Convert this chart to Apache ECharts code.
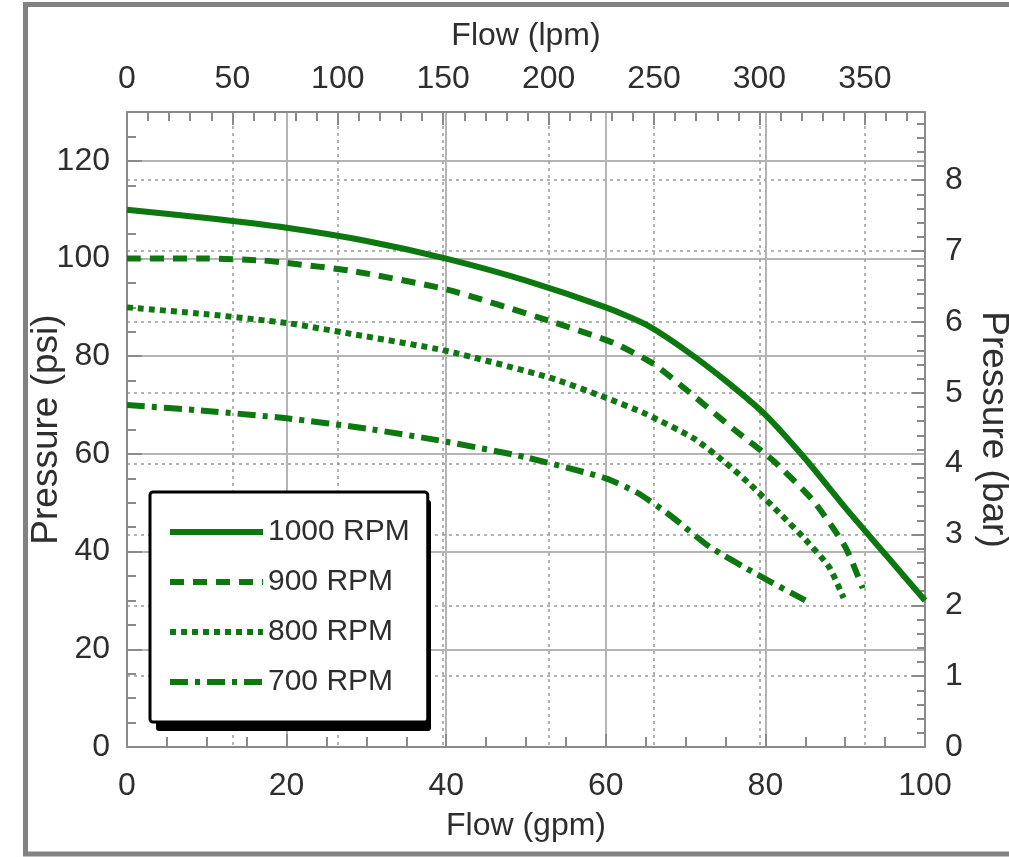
<!DOCTYPE html>
<html>
<head>
<meta charset="utf-8">
<title>Pump curves</title>
<script src="https://cdn.jsdelivr.net/npm/echarts@6/dist/echarts.min.js"></script>
<style>
  html, body { margin: 0; padding: 0; background: #fff; }
  #chart { width: 1009px; height: 857px; }
</style>
</head>
<body>
<div id="chart"></div>
<script>
// values
const seriesNames = ['1000 RPM', '900 RPM', '800 RPM', '700 RPM'];

const gpm1000 = [0, 10, 20, 30, 40, 50, 60, 65, 70, 75, 80, 85, 90, 95, 100];
const psi1000 = [110, 108.3, 106.3, 103.6, 100, 95.5, 90, 86.5, 81.2, 75, 68, 59, 49, 39.5, 30];

const gpm900 = [0, 10, 17, 20, 28, 40, 53, 61, 66, 71, 76, 81, 86, 90, 92.2];
const psi900 = [100, 100, 99.6, 99.1, 97.5, 93.7, 87.2, 82.7, 78.4, 71.9, 65.1, 58.6, 50.4, 41, 32.5];

const gpm800 = [0, 10, 20, 28, 40, 53, 60, 65, 71, 75, 78, 82, 85, 88, 89.8];
const psi800 = [90, 88.6, 86.8, 84.6, 81.1, 75.6, 71.5, 68.2, 63.2, 58.2, 53.9, 47.5, 42.5, 36.8, 30.5];

const gpm700 = [0, 10, 20, 30, 40, 50, 60, 64, 68, 73, 79, 85];
const psi700 = [70, 68.8, 67.3, 65.2, 62.5, 59.3, 55, 52, 47.5, 41, 35.3, 30];

const GPM_MAX = 100;
const PSI_MAX = 130;
const LPM_PER_GPM = 3.78541;
const PSI_PER_BAR = 14.5038;

const lineColor = '#0c780f';
const dashes = ['solid', [14, 9], [6, 5], [18, 7, 5, 7]];
const textColor = '#2e2e2e';
const font = "'Liberation Sans', Arial, sans-serif";

// legend box as measured on the reference
const LEGEND_BOX = { x: 150, y: 492, w: 275, h: 231 };

const chart = echarts.init(document.getElementById('chart'));

function zip(xs, ys) {
  return xs.map((x, i) => [x, ys[i]]);
}

function isMultiple(v, step) {
  const q = v / step;
  return Math.abs(q - Math.round(q)) < 1e-6;
}

const curves = [
  zip(gpm1000, psi1000),
  zip(gpm900, psi900),
  zip(gpm800, psi800),
  zip(gpm700, psi700),
];

const tickLabel = { color: textColor, fontFamily: font, fontSize: 32 };
const axisName = { color: textColor, fontFamily: font, fontSize: 32 };
const sideName = { color: textColor, fontFamily: font, fontSize: 37 };
const frameLine = { show: true, onZero: false, lineStyle: { color: '#8a8a8a', width: 2 } };
const tickLine = { color: '#8a8a8a', width: 2 };
const solidGrid = { show: true, lineStyle: { color: '#b4b4b4', width: 2 } };
const dottedGrid = { show: true, lineStyle: { color: '#9a9a9a', width: 1.5, type: [3, 4] } };

chart.setOption({
  backgroundColor: '#fff',
  animation: false,
  graphic: [
    {
      type: 'rect',
      silent: true,
      z: 0,
      shape: { x: 25.5, y: 4.5, width: 1100, height: 849.5 },
      style: { fill: 'none', stroke: '#828282', lineWidth: 5 },
    },
    {
      // hard drop shadow behind the legend
      type: 'rect',
      silent: true,
      z: 8,
      shape: { x: LEGEND_BOX.x + 6, y: LEGEND_BOX.y + 8, width: LEGEND_BOX.w, height: LEGEND_BOX.h, r: 3 },
      style: { fill: '#000' },
    },
  ],
  grid: { left: 127, right: 84, top: 112, bottom: 110, outerBoundsMode: 'none', containLabel: false },
  legend: {
    orient: 'vertical',
    left: LEGEND_BOX.x,
    top: LEGEND_BOX.y,
    z: 10,
    padding: [20, 18, 20, 17],
    itemGap: 10,
    itemWidth: 93,
    itemHeight: 14,
    data: seriesNames,
    backgroundColor: '#fff',
    borderColor: '#000',
    borderWidth: 3,
    borderRadius: 3,
    itemStyle: { opacity: 0 },
    lineStyle: { width: 6 },
    textStyle: { color: textColor, fontFamily: font, fontSize: 30, lineHeight: 40 },
  },
  xAxis: [
    {
      type: 'value',
      position: 'bottom',
      min: 0,
      max: GPM_MAX,
      interval: 20,
      name: 'Flow (gpm)',
      nameLocation: 'middle',
      nameMoveOverlap: false,
      nameGap: 63,
      nameTextStyle: axisName,
      axisLine: frameLine,
      axisTick: { show: true, inside: true, length: 13, lineStyle: tickLine },
      minorTick: { show: true, splitNumber: 4, length: 10, lineStyle: tickLine },
      axisLabel: { ...tickLabel, margin: 23 },
      splitLine: solidGrid,
    },
    {
      type: 'value',
      position: 'top',
      min: 0,
      max: GPM_MAX * LPM_PER_GPM,
      interval: 10,
      name: 'Flow (lpm)',
      nameLocation: 'middle',
      nameMoveOverlap: false,
      nameGap: 60,
      nameTextStyle: axisName,
      axisLine: frameLine,
      axisTick: { show: true, inside: true, length: 9, lineStyle: tickLine },
      axisLabel: { ...tickLabel, margin: 17, formatter: (v) => (isMultiple(v, 50) ? String(Math.round(v)) : '') },
      splitLine: { show: false },
    },
    {
      type: 'value',
      position: 'top',
      min: 0,
      max: GPM_MAX * LPM_PER_GPM,
      interval: 50,
      axisLine: { show: false, onZero: false },
      axisTick: { show: true, inside: true, length: 13, lineStyle: tickLine },
      axisLabel: { show: false },
      splitLine: dottedGrid,
    },
  ],
  yAxis: [
    {
      type: 'value',
      position: 'left',
      min: 0,
      max: PSI_MAX,
      interval: 5,
      name: 'Pressure (psi)',
      nameLocation: 'middle',
      nameMoveOverlap: false,
      nameGap: 62,
      nameRotate: 90,
      nameTextStyle: sideName,
      axisLine: frameLine,
      axisTick: { show: true, inside: true, length: 9, lineStyle: tickLine },
      axisLabel: { ...tickLabel, margin: 17, formatter: (v) => (isMultiple(v, 20) ? String(Math.round(v)) : '') },
      splitLine: { show: false },
    },
    {
      type: 'value',
      position: 'left',
      min: 0,
      max: PSI_MAX,
      interval: 20,
      axisLine: { show: false, onZero: false },
      axisTick: { show: true, inside: true, length: 15, lineStyle: tickLine },
      axisLabel: { show: false },
      splitLine: solidGrid,
    },
    {
      type: 'value',
      position: 'right',
      min: 0,
      max: PSI_MAX / PSI_PER_BAR,
      interval: 0.2,
      name: 'Pressure (bar)',
      nameLocation: 'middle',
      nameMoveOverlap: false,
      nameGap: 50,
      nameRotate: -90,
      nameTextStyle: sideName,
      axisLine: frameLine,
      axisTick: { show: true, inside: true, length: 8, lineStyle: tickLine },
      axisLabel: { ...tickLabel, margin: 20, formatter: (v) => (isMultiple(v, 1) ? String(Math.round(v)) : '') },
      splitLine: { show: false },
    },
    {
      type: 'value',
      position: 'right',
      min: 0,
      max: PSI_MAX / PSI_PER_BAR,
      interval: 1,
      axisLine: { show: false, onZero: false },
      axisTick: { show: true, inside: true, length: 13, lineStyle: tickLine },
      axisLabel: { show: false },
      splitLine: dottedGrid,
    },
  ],
  series: curves.map((data, i) => ({
    name: seriesNames[i],
    type: 'line',
    xAxisIndex: 0,
    yAxisIndex: 0,
    data,
    smooth: 0.2,
    symbol: 'none',
    color: lineColor,
    lineStyle: { color: lineColor, width: 6, type: dashes[i] },
    z: 3,
  })),
});
</script>
</body>
</html>
